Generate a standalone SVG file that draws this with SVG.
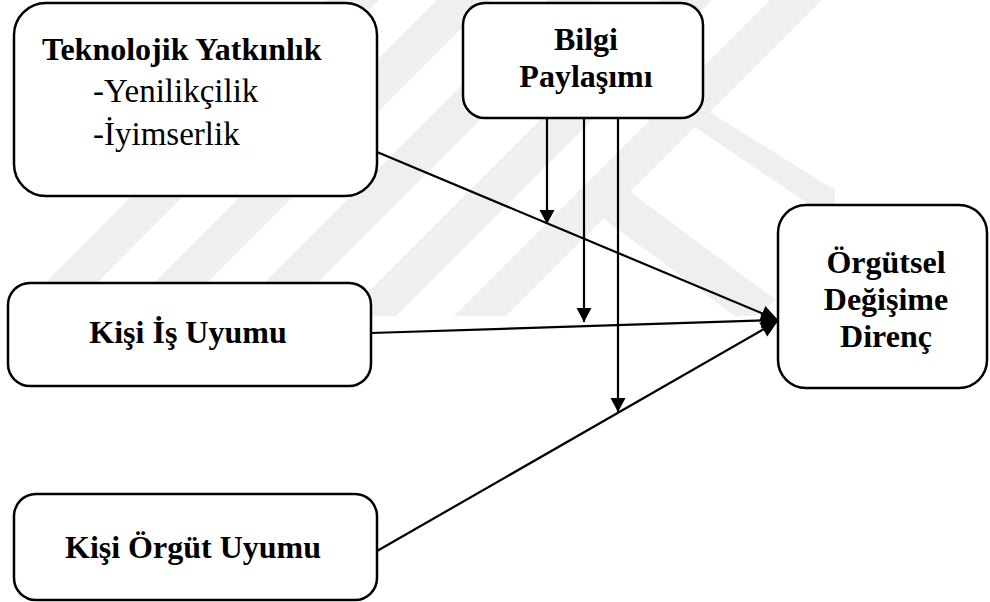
<svg xmlns="http://www.w3.org/2000/svg" width="990" height="602" viewBox="0 0 990 602">
  <style>
    .box { fill: #ffffff; stroke: #000000; stroke-width: 2.5; }
    .bold { font-family: 'Liberation Serif', 'Times New Roman', serif; font-weight: 700; font-size: 32px; fill: #000000; }
    .reg { font-family: 'Liberation Serif', 'Times New Roman', serif; font-weight: 400; font-size: 33px; fill: #000000; }
    .link { fill: none; stroke: #000000; stroke-width: 2.2; }
    .band { fill: #efefef; }
  </style>
  <defs>
    <marker id="arrow" viewBox="-1 -8 16 16" refX="14" refY="0" markerUnits="userSpaceOnUse" markerWidth="16" markerHeight="16" orient="auto">
      <path d="M0,-7.5 L14,0 L0,7.5 Z" fill="#000000"/>
    </marker>
    <marker id="arrowBig" viewBox="-1 -9 19 18" refX="17" refY="0" markerUnits="userSpaceOnUse" markerWidth="19" markerHeight="18" orient="auto">
      <path d="M0,-8 L17,0 L0,8 Z" fill="#000000"/>
    </marker>
    <clipPath id="bandClip">
      <rect x="0" y="0" width="990" height="316"/>
    </clipPath>
  </defs>

  <rect x="0" y="0" width="990" height="602" fill="#ffffff"/>

  <!-- faint diagonal background bands -->
  <g id="background-bands" clip-path="url(#bandClip)">
    <polygon class="band" points="327,0 379,0 64,316 12,316"/>
    <polygon class="band" points="437,0 490,0 174,316 121,316"/>
    <polygon class="band" points="547,0 600,0 284,316 231,316"/>
    <polygon class="band" points="660,0 712,0 396,316 344,316"/>
    <polygon class="band" points="770,0 822,0 506,316 454,316"/>
    <polygon class="band" points="597,186 622,186 776,300 756,316 735,316 597,214"/>
    <polygon class="band" points="655,100 690,100 835,190 835,222"/>
  </g>

  <!-- connectors -->
  <g id="connectors">
    <line class="link" x1="377" y1="152" x2="778" y2="320" marker-end="url(#arrowBig)"/>
    <line class="link" x1="371" y1="333" x2="778" y2="320" marker-end="url(#arrowBig)"/>
    <line class="link" x1="377" y1="551" x2="778" y2="321" marker-end="url(#arrowBig)"/>
    <line class="link" x1="547" y1="118" x2="547" y2="224" marker-end="url(#arrow)"/>
    <line class="link" x1="584" y1="118" x2="584" y2="322" marker-end="url(#arrow)"/>
    <line class="link" x1="618" y1="118" x2="618" y2="412" marker-end="url(#arrow)"/>
  </g>

  <g id="teknolojik-yatkinlik">
    <rect class="box" x="14" y="3" width="363" height="193" rx="32" ry="32"/>
    <text class="bold" x="42" y="60" font-size="32.6">Teknolojik Yatkınlık</text>
    <text class="reg" x="93" y="102">-Yenilikçilik</text>
    <text class="reg" x="93" y="145">-İyimserlik</text>
  </g>

  <g id="bilgi-paylasimi">
    <rect class="box" x="463" y="3" width="240" height="115" rx="22" ry="22"/>
    <text class="bold" x="586" y="50" text-anchor="middle">Bilgi</text>
    <text class="bold" x="586" y="87" text-anchor="middle">Paylaşımı</text>
  </g>

  <g id="orgutsel-degisime-direnc">
    <rect class="box" x="778" y="205" width="209" height="183" rx="28" ry="28"/>
    <text class="bold" x="886" y="273" text-anchor="middle">Örgütsel</text>
    <text class="bold" x="886" y="310" text-anchor="middle">Değişime</text>
    <text class="bold" x="886" y="347" text-anchor="middle">Direnç</text>
  </g>

  <g id="kisi-is-uyumu">
    <rect class="box" x="8" y="283" width="363" height="103" rx="22" ry="22"/>
    <text class="bold" x="188" y="343" text-anchor="middle">Kişi İş Uyumu</text>
  </g>

  <g id="kisi-orgut-uyumu">
    <rect class="box" x="14" y="494" width="363" height="106" rx="22" ry="22"/>
    <text class="bold" x="193" y="558" text-anchor="middle">Kişi Örgüt Uyumu</text>
  </g>
</svg>
